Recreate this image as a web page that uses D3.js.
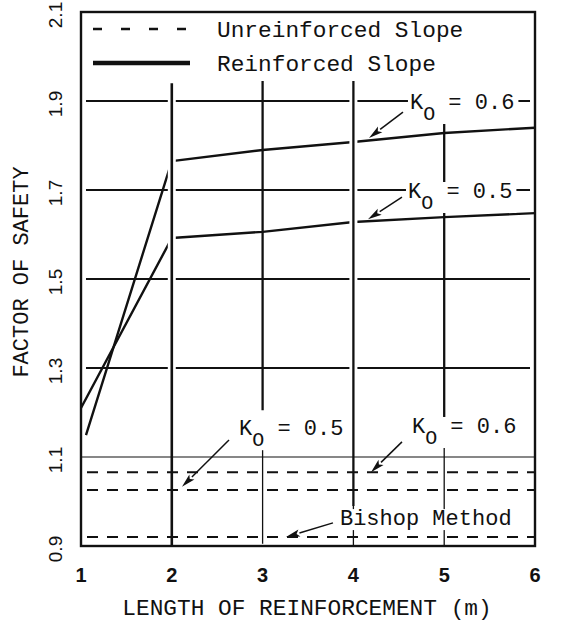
<!DOCTYPE html>
<html><head><meta charset="utf-8">
<script src="https://cdn.jsdelivr.net/npm/d3@7"></script>
<style>html,body{margin:0;padding:0;background:#fff;}</style>
</head><body>
<svg id="chart" width="569" height="621"></svg>
<script>
// ---- data ----
const xTicks = [1, 2, 3, 4, 5, 6];
const xTickLabels = ["1", "2", "3", "4", "5", "6"];
const yTicks = [0.9, 1.1, 1.3, 1.5, 1.7, 1.9, 2.1];
const yTickLabels = ["0.9", "1.1", "1.3", "1.5", "1.7", "1.9", "2.1"];
const gridY = [1.3, 1.5, 1.7, 1.9];

const reinfX_K06 = [1.055, 2, 3, 4, 5, 6];
const reinfY_K06 = [1.149, 1.765, 1.790, 1.808, 1.828, 1.840];
const reinfX_K05 = [1, 2, 3, 4, 5, 6];
const reinfY_K05 = [1.210, 1.592, 1.606, 1.628, 1.639, 1.648];

const unreinfX = [1, 2, 3, 4, 5, 6];
const unreinfY_K05 = [1.026, 1.026, 1.026, 1.026, 1.026, 1.026];
const unreinfY_K06 = [1.066, 1.066, 1.066, 1.066, 1.066, 1.066];
const bishopY = [0.920, 0.920, 0.920, 0.920, 0.920, 0.920];

const legendLabels = ["Unreinforced Slope", "Reinforced Slope"];
const xTitle = "LENGTH OF REINFORCEMENT (m)";
const yTitle = "FACTOR OF SAFETY";

// annotations: label anchor (x,y) in data units, arrow start -> tip
const annotations = [
  {k: "0.6", lx: 4.623, ly: 1.882, ax: 4.546, ay: 1.875, tx: 4.172, ty: 1.817},
  {k: "0.5", lx: 4.601, ly: 1.682, ax: 4.535, ay: 1.684, tx: 4.161, ty: 1.634},
  {k: "0.5", lx: 2.740, ly: 1.149, ax: 2.630, ay: 1.138, tx: 2.112, ty: 1.033},
  {k: "0.6", lx: 4.645, ly: 1.154, ax: 4.535, ay: 1.134, tx: 4.194, ty: 1.066}
];
const bishopNote = {text: "Bishop Method", lx: 3.852, ly: 0.947, ax: 3.775, ay: 0.952, tx: 3.258, ty: 0.920};

// ---- setup ----
const mono = "'Liberation Mono','Courier New',monospace";
const sans = "'Liberation Sans',Arial,sans-serif";
const svg = d3.select("#chart");
const x = d3.scaleLinear().domain([1, 6]).range([81, 535]);
const y = d3.scaleLinear().domain([0.9, 2.1]).range([546, 12]);
const g = svg.append("g");

// horizontal grid lines
g.selectAll(".grid").data(gridY).enter().append("line")
  .attr("x1", x(1.055)).attr("x2", x(5.945))
  .attr("y1", d => y(d)).attr("y2", d => y(d))
  .attr("stroke", "#111").attr("stroke-width", 1.8);
// thin 1.1 line
g.append("line").attr("x1", x(1)).attr("x2", x(6))
  .attr("y1", y(1.1)).attr("y2", y(1.1))
  .attr("stroke", "#111").attr("stroke-width", 1.1);

// dashed unreinforced lines
const line = d3.line().x(d => x(d[0])).y(d => y(d[1]));
[unreinfY_K05, unreinfY_K06, bishopY].forEach(ys => {
  g.append("path").datum(unreinfX.map((v, i) => [v, ys[i]]))
    .attr("d", line).attr("fill", "none")
    .attr("stroke", "#111").attr("stroke-width", 2)
    .attr("stroke-dasharray", "11,9").attr("stroke-dashoffset", -6);
});

// reinforced curves
[[reinfX_K06, reinfY_K06], [reinfX_K05, reinfY_K05]].forEach(([xs, ys]) => {
  g.append("path").datum(xs.map((v, i) => [v, ys[i]]))
    .attr("d", line).attr("fill", "none")
    .attr("stroke", "#111").attr("stroke-width", 2.4)
    .attr("stroke-linejoin", "round");
});

// white halos at x=2 and x=4 (gaps in lines)
[2, 4].forEach(v => {
  g.append("line").attr("x1", x(v)).attr("x2", x(v))
    .attr("y1", y(1.95)).attr("y2", y(1.15))
    .attr("stroke", "#fff").attr("stroke-width", 8);
});

// vertical lines
const vSegs = [
  {v: 2, a: 0.9, b: 1.94, w: 2.6},
  {v: 3, a: 1.205, b: 1.945, w: 2.3},
  {v: 3, a: 0.905, b: 1.12, w: 1.3},
  {v: 4, a: 0.99, b: 1.945, w: 2.3},
  {v: 4, a: 0.9, b: 0.99, w: 1.3},
  {v: 5, a: 1.19, b: 1.885, w: 2.3},
  {v: 5, a: 0.9, b: 1.12, w: 1.3}
];
g.selectAll(".vseg").data(vSegs).enter().append("line")
  .attr("x1", d => x(d.v)).attr("x2", d => x(d.v))
  .attr("y1", d => y(d.a)).attr("y2", d => y(d.b))
  .attr("stroke", "#111").attr("stroke-width", d => d.w);

// arrow helper
function arrow(x0, y0, x1, y1) {
  const px0 = x(x0), py0 = y(y0), px1 = x(x1), py1 = y(y1);
  const dx = px1 - px0, dy = py1 - py0, L = Math.hypot(dx, dy);
  const ux = dx / L, uy = dy / L, hl = 14, hw = 3.6;
  const bx = px1 - ux * hl, by = py1 - uy * hl;
  g.append("line").attr("x1", px0).attr("y1", py0).attr("x2", bx).attr("y2", by)
    .attr("stroke", "#111").attr("stroke-width", 1.5);
  g.append("polygon")
    .attr("points", [[px1, py1], [bx - uy * hw, by + ux * hw], [bx + ux * 3, by + uy * 3], [bx + uy * hw, by - ux * hw]].map(p => p.join(",")).join(" "))
    .attr("fill", "#111");
}

// label helper with white background
function bgLabel(build) {
  const grp = g.append("g");
  const bg = grp.append("rect").attr("fill", "#fff");
  const t = build(grp);
  const bb = t.node().getBBox();
  bg.attr("x", bb.x - 2).attr("y", bb.y + 2).attr("width", bb.width + 6).attr("height", bb.height - 4);
}

annotations.forEach(a => {
  bgLabel(grp => {
    const t = grp.append("text").attr("x", x(a.lx)).attr("y", y(a.ly))
      .attr("font-family", mono).attr("font-size", 22).attr("fill", "#111")
      .attr("xml:space", "preserve");
    t.append("tspan").text("K");
    t.append("tspan").attr("dy", 11).attr("font-size", 20).text("O");
    t.append("tspan").attr("dy", -11).text(" = " + a.k);
    return t;
  });
  arrow(a.ax, a.ay, a.tx, a.ty);
});

bgLabel(grp => grp.append("text").attr("x", x(bishopNote.lx)).attr("y", y(bishopNote.ly))
  .attr("font-family", mono).attr("font-size", 22).attr("fill", "#111").text(bishopNote.text));
arrow(bishopNote.ax, bishopNote.ay, bishopNote.tx, bishopNote.ty);

// frame
g.append("rect").attr("x", x(1)).attr("y", y(2.1))
  .attr("width", x(6) - x(1)).attr("height", y(0.9) - y(2.1))
  .attr("fill", "none").attr("stroke", "#111").attr("stroke-width", 2.4);

// legend
g.append("line").attr("x1", 93).attr("x2", 186).attr("y1", 29).attr("y2", 29)
  .attr("stroke", "#111").attr("stroke-width", 2.5).attr("stroke-dasharray", "9,19");
g.append("line").attr("x1", 93).attr("x2", 190).attr("y1", 63).attr("y2", 63)
  .attr("stroke", "#111").attr("stroke-width", 4.5);
g.selectAll(".leg").data(legendLabels).enter().append("text")
  .attr("x", 217).attr("y", (d, i) => 37 + i * 34)
  .attr("font-family", mono).attr("font-size", 22.8).attr("fill", "#111").text(d => d);

// x tick labels
g.selectAll(".xt").data(xTicks).enter().append("text")
  .attr("x", d => x(d)).attr("y", 582).attr("text-anchor", "middle")
  .attr("font-family", sans).attr("font-weight", "bold").attr("font-size", 20).attr("fill", "#111")
  .text((d, i) => xTickLabels[i]);

// y tick labels (rotated)
g.selectAll(".yt").data(yTicks).enter().append("text")
  .attr("transform", d => `translate(62,${y(d) + 3}) rotate(-90)`)
  .attr("text-anchor", "middle")
  .attr("font-family", sans).attr("font-size", 19).attr("fill", "#111")
  .text((d, i) => yTickLabels[i]);

// axis titles
g.append("text").attr("x", 307).attr("y", 615).attr("text-anchor", "middle")
  .attr("font-family", mono).attr("font-size", 22.8).attr("fill", "#111").text(xTitle);
g.append("text").attr("transform", "translate(28,272) rotate(-90)").attr("text-anchor", "middle")
  .attr("font-family", mono).attr("font-size", 22).attr("fill", "#111").text(yTitle);
</script>
</body></html>
